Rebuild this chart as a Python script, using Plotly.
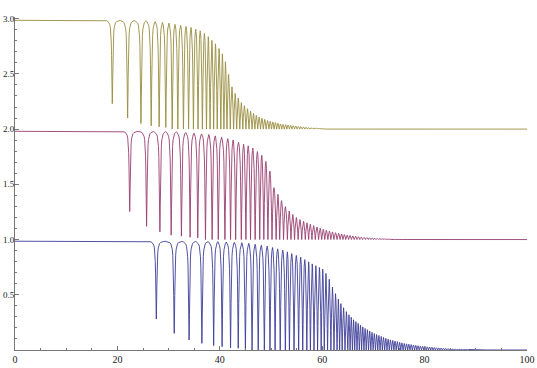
import numpy as np
import plotly.graph_objects as go

# ---------------- data ----------------
# positions of the resonance dips (x), leading dip minima, floor level and envelope (tops)
yellow_dips = [19.0, 22.0, 24.6, 26.6, 28.15, 29.45, 30.7, 31.8, 32.9, 33.9, 34.85, 35.75,
               36.6, 37.4, 38.1, 38.8, 39.5, 40.2, 40.8, 41.4,
               42.05, 42.7, 43.3, 43.9, 44.5, 45.1, 45.7, 46.3, 46.85, 47.4, 47.95, 48.5,
               49.05, 49.6, 50.1, 50.6, 51.1, 51.6, 52.1, 52.6, 53.1, 53.6, 54.1, 54.6,
               55.1, 55.6, 56.1, 56.6, 57.1, 57.6, 58.1, 58.6, 59.1, 59.6, 60.1, 60.6,
               61.1, 61.6, 62.1, 62.6, 63.1]
yellow_mins = [2.23, 2.10, 2.05, 2.03, 2.02, 2.015]
yellow_floor = 2.0
yellow_env_x = [0, 18, 26, 30, 34.4, 36.4, 37.35, 38.3, 39.3, 40.3, 40.9, 41.6, 42.2, 42.9,
                44.2, 45.5, 47.4, 49.4, 51.9, 55.2, 57.8, 60.5, 63.5, 100]
yellow_env_y = [2.985, 2.985, 2.98, 2.96, 2.92, 2.886, 2.856, 2.81, 2.765, 2.70, 2.645, 2.52,
                2.40, 2.33, 2.24, 2.18, 2.115, 2.076, 2.046, 2.025, 2.012, 2.004, 2.0, 2.0]

pink_dips = [22.4, 25.7, 28.3, 30.5, 32.5, 34.2, 35.7, 37.2, 38.5, 39.7, 41.0, 42.1, 43.1,
             44.2, 45.1, 46.0, 46.9, 47.8, 48.6, 49.4, 50.2, 51.0, 51.7,
             52.45, 53.2, 53.9, 54.6, 55.3, 56.0, 56.7, 57.35, 58.0, 58.65, 59.3, 59.9,
             60.5, 61.1, 61.7, 62.3, 62.9, 63.5, 64.05, 64.6, 65.15, 65.7, 66.25, 66.8,
             67.35, 67.9, 68.45, 69.0, 69.5, 70.0, 70.5, 71.0, 71.5, 72.0, 72.5, 73.0,
             73.5, 74.0, 74.5, 75.0, 75.5]
pink_mins = [1.254, 1.12, 1.07, 1.04, 1.03, 1.02, 1.015]
pink_floor = 1.0
pink_env_x = [0, 22, 32, 38, 42.5, 44.2, 46.1, 48.1, 49.4, 50.0, 50.6, 51.6, 52.6, 53.9,
              55.2, 57.1, 59.7, 62.3, 64.9, 68, 71, 73.5, 76, 100]
pink_env_y = [1.98, 1.98, 1.975, 1.95, 1.904, 1.87, 1.84, 1.77, 1.68, 1.59, 1.47, 1.39,
              1.31, 1.24, 1.19, 1.15, 1.10, 1.065, 1.04, 1.02, 1.01, 1.004, 1.0, 1.0]

blue_dips = [27.6, 31.1, 34.0, 36.5, 38.8, 40.45, 42.1, 43.6, 45.0, 46.3, 47.5, 48.7, 49.8,
             50.8, 51.8, 52.8, 53.6, 54.5, 55.4, 56.2, 57.0, 57.7, 58.4, 59.1, 59.8, 60.4,
             61.05, 61.7, 62.3, 62.9, 63.4, 63.9, 64.45, 65.0, 65.45, 65.9, 66.35,
             66.8, 67.25, 67.7, 68.15, 68.6, 69.05, 69.5, 69.95, 70.4, 70.85, 71.3, 71.75,
             72.2, 72.65, 73.1, 73.55, 74.0, 74.45, 74.9, 75.35, 75.8, 76.25, 76.7, 77.15,
             77.6, 78.05, 78.5, 78.95, 79.4, 79.85, 80.3, 80.75, 81.2, 81.65, 82.1, 82.55,
             83.0, 83.45, 83.9, 84.35, 84.8, 85.25, 85.7, 86.15, 86.6, 87.05, 87.5, 87.95,
             88.4, 88.85, 89.3, 89.75, 90.2, 90.65, 91.1, 91.55, 92.0]
blue_mins = [0.28, 0.15, 0.09, 0.06, 0.04, 0.03, 0.02, 0.015]
blue_floor = 0.0
blue_env_x = [0, 27, 40, 45, 49.3, 52.6, 55.8, 58.4, 60.2, 61.2, 62.0, 62.9, 63.9, 65.0,
              66.2, 68.2, 70.1, 72.7, 75.9, 79.2, 82.4, 85.7, 89, 92.5, 100]
blue_env_y = [0.985, 0.985, 0.98, 0.97, 0.94, 0.90, 0.84, 0.77, 0.73, 0.66, 0.57, 0.48,
              0.40, 0.33, 0.27, 0.20, 0.15, 0.10, 0.06, 0.035, 0.02, 0.01, 0.004, 0.0, 0.0]

x_tick_vals = [0, 20, 40, 60, 80, 100]
x_tick_text = ["0", "20", "40", "60", "80", "100"]
y_tick_vals = [0.5, 1.0, 1.5, 2.0, 2.5, 3.0]
y_tick_text = ["0.5", "1.0", "1.5", "2.0", "2.5", "3.0"]

colors = {"blue": "#3d3d99", "pink": "#993d71", "yellow": "#998c3d"}

# ---------------- dip profile (drawing style) ----------------
DIP_W = 0.12
OFFS = [0.0, 0.02, 0.04, 0.07, 0.1, 0.14, 0.2, 0.28, 0.38, 0.5, 0.65, 0.85, 1.1, 1.4]


def g(d):
    return d * d / (d * d + DIP_W * DIP_W)


def build(dips, mins, floor, ex, ey, x0=0.0, x1=100.0):
    xs = [x0]
    ys = [float(np.interp(x0, ex, ey))]
    n = len(dips)
    for i, p in enumerate(dips):
        lo = mins[i] if i < len(mins) else floor
        hl = (p - dips[i - 1]) / 2 if i > 0 else (dips[1] - dips[0]) / 2
        hr = (dips[i + 1] - p) / 2 if i < n - 1 else (p - dips[i - 1]) / 2
        ds = [d for d in OFFS if d < hl] + [hl]
        for d in reversed(ds):
            top = float(np.interp(p - d, ex, ey))
            xs.append(p - d)
            ys.append(lo + (top - lo) * g(d) / g(hl))
        ds = [d for d in OFFS if 0 < d < hr] + [hr]
        for d in ds:
            top = float(np.interp(p + d, ex, ey))
            xs.append(p + d)
            ys.append(lo + (top - lo) * g(d) / g(hr))
    xs.append(x1)
    ys.append(float(np.interp(x1, ex, ey)))
    return xs, ys


fig = go.Figure()
series = [
    ("blue", blue_dips, blue_mins, blue_floor, blue_env_x, blue_env_y),
    ("pink", pink_dips, pink_mins, pink_floor, pink_env_x, pink_env_y),
    ("yellow", yellow_dips, yellow_mins, yellow_floor, yellow_env_x, yellow_env_y),
]
for name, dips, mins, floor, ex, ey in series:
    xs, ys = build(dips, mins, floor, ex, ey)
    fig.add_trace(go.Scatter(x=xs, y=ys, mode="lines", name=name,
                             line=dict(color=colors[name], width=0.9),
                             hoverinfo="skip"))

axis_font = dict(family="Liberation Serif", size=10, color="#222")
yfont = dict(family="Liberation Serif", size=9, color="#222")
fig.update_layout(
    width=537, height=368,
    margin=dict(l=15, r=10, t=17, b=18, autoexpand=False),
    paper_bgcolor="white", plot_bgcolor="white",
    showlegend=False,
    font=axis_font,
)
fig.update_xaxes(range=[0, 100], showgrid=False, zeroline=False, automargin=False,
                 showline=True, linecolor="#777", linewidth=1,
                 ticks="inside", ticklen=4, tickcolor="#777", tickwidth=1,
                 tickvals=x_tick_vals, ticktext=x_tick_text,
                 minor=dict(ticks="inside", ticklen=2, dtick=5, tick0=0,
                            tickcolor="#777", showgrid=False),
                 tickfont=axis_font)
fig.update_yaxes(range=[0, 3.015], showgrid=False, zeroline=False, automargin=False,
                 showline=True, linecolor="#777", linewidth=1,
                 ticks="inside", ticklen=4, tickcolor="#777", tickwidth=1,
                 tickvals=y_tick_vals, ticktext=y_tick_text, ticklabelstandoff=-2,
                 minor=dict(ticks="inside", ticklen=2, dtick=0.1, tick0=0,
                            tickcolor="#777", showgrid=False),
                 tickfont=yfont)

fig.write_html("out.html")
